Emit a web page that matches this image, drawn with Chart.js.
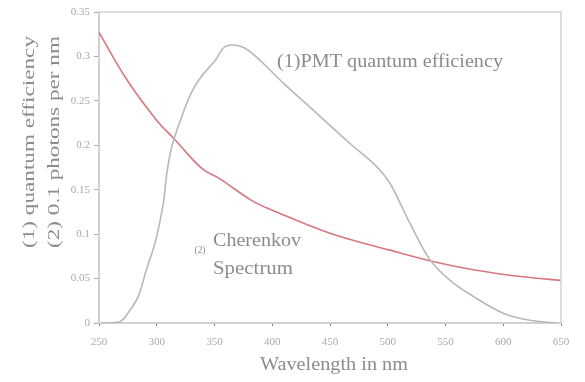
<!DOCTYPE html>
<html><head><meta charset="utf-8">
<script src="https://cdn.jsdelivr.net/npm/chart.js@4/dist/chart.umd.min.js"></script>
<style>html,body{margin:0;padding:0;background:#fff}#w{width:585px;height:382px}</style>
</head><body><div id="w"><canvas id="c" width="585" height="382"></canvas></div>
<script>
const xTicks = [250,300,350,400,450,500,550,600,650];
const yTicks = [0,0.05,0.1,0.15,0.2,0.25,0.3,0.35];
const yTickLabels = ['0','0.05','0.1','0.15','0.2','0.25','0.3','0.35'];
const pmtWavelength = [252,268,275,284,291,298.5,305.7,308.6,312.9,321.6,330.3,338.9,350.4,359.1,370.6,382.2,409.6,438.5,467.3,490.4,502,519.3,536.6,553.9,574,600,623,646];
const pmtQE = [0,0.0015,0.011,0.030,0.060,0.090,0.135,0.167,0.198,0.232,0.260,0.278,0.295,0.311,0.312,0.304,0.270,0.236,0.202,0.176,0.157,0.112,0.071,0.048,0.030,0.011,0.003,0];
const cherWavelength = [250,275,300,316,339,355,382,400,450,502,540,574,617,650];
const cherPhotons = [0.327,0.272,0.228,0.206,0.174,0.162,0.138,0.127,0.101,0.082,0.069,0.060,0.052,0.048];

const toXY = (xs, ys) => xs.map((x,i)=>({x:x,y:ys[i]}));

// draw text stretched along its baseline to span a given length
function stretched(ctx, text, cx, cy, font, length){
  ctx.save();
  ctx.font = font;
  const w = ctx.measureText(text).width;
  ctx.translate(cx, cy);
  ctx.scale(length / w, 1);
  ctx.textAlign = 'center';
  ctx.textBaseline = 'middle';
  ctx.fillText(text, 0, 0);
  ctx.restore();
}

const deco = {
  id:'deco',
  afterDraw(chart){
    const ctx = chart.ctx, a = chart.chartArea;
    ctx.save();
    ctx.strokeStyle = '#d4d4d4'; ctx.lineWidth = 1.5;
    ctx.beginPath();
    ctx.moveTo(a.left, a.top); ctx.lineTo(a.right, a.top); ctx.lineTo(a.right, a.bottom);
    ctx.stroke();
    ctx.fillStyle = '#8c8c8c';
    const F = '18px "Liberation Serif"';
    stretched(ctx, '(1)PMT quantum efficiency', 390, 62, F, 226);
    stretched(ctx, 'Cherenkov', 257, 241, F, 88);
    stretched(ctx, 'Spectrum', 253, 269, F, 80);
    stretched(ctx, '(2)', 200, 250, '11px "Liberation Serif"', 11);
    stretched(ctx, 'Wavelength in nm', 334, 365, F, 148);
    ctx.save(); ctx.translate(30, 142); ctx.rotate(-Math.PI/2);
    stretched(ctx, '(1) quantum efficiency', 0, 0, '17px "Liberation Serif"', 212);
    ctx.restore();
    ctx.save(); ctx.translate(55, 142); ctx.rotate(-Math.PI/2);
    stretched(ctx, '(2) 0.1 photons per nm', 0, 0, '17px "Liberation Serif"', 212);
    ctx.restore();
    ctx.restore();
  }
};

new Chart(document.getElementById('c'), {
  type:'line',
  data:{datasets:[
    {data:toXY(pmtWavelength,pmtQE), borderColor:'#b8b6c0', borderWidth:1.6, pointRadius:0, tension:0.35, fill:false},
    {data:toXY(cherWavelength,cherPhotons), borderColor:'rgba(210,95,105,0.85)', borderWidth:1.6, pointRadius:0, tension:0.4, fill:false}
  ]},
  options:{
    responsive:false, animation:false, devicePixelRatio:1,
    layout:{padding:{left:0,right:24,top:12,bottom:0}},
    plugins:{legend:{display:false}, tooltip:{enabled:false}},
    scales:{
      x:{type:'linear', min:250, max:650,
        afterBuildTicks(s){ s.ticks = xTicks.map(v=>({value:v})); },
        afterFit(s){ s.height = 59; },
        border:{color:'#d0d0d0', width:2},
        grid:{drawOnChartArea:false, drawTicks:true, tickLength:3, color:'#777'},
        ticks:{color:'#aaaaaa', font:{family:'Liberation Serif', size:11}, padding:10, maxRotation:0,
          callback:(v)=>String(v)}
      },
      y:{type:'linear', min:0, max:0.35,
        afterBuildTicks(s){ s.ticks = yTicks.map(v=>({value:v})); },
        afterFit(s){ s.width = 99; },
        border:{color:'#d0d0d0', width:2},
        grid:{drawOnChartArea:false, drawTicks:true, tickLength:5, color:'#aaa'},
        ticks:{color:'#aaaaaa', font:{family:'Liberation Serif', size:11}, padding:4,
          callback:(v)=>{const i=yTicks.findIndex(t=>Math.abs(t-v)<1e-9); return i>=0?yTickLabels[i]:'';}}
      }
    }
  },
  plugins:[deco]
});
</script></body></html>
